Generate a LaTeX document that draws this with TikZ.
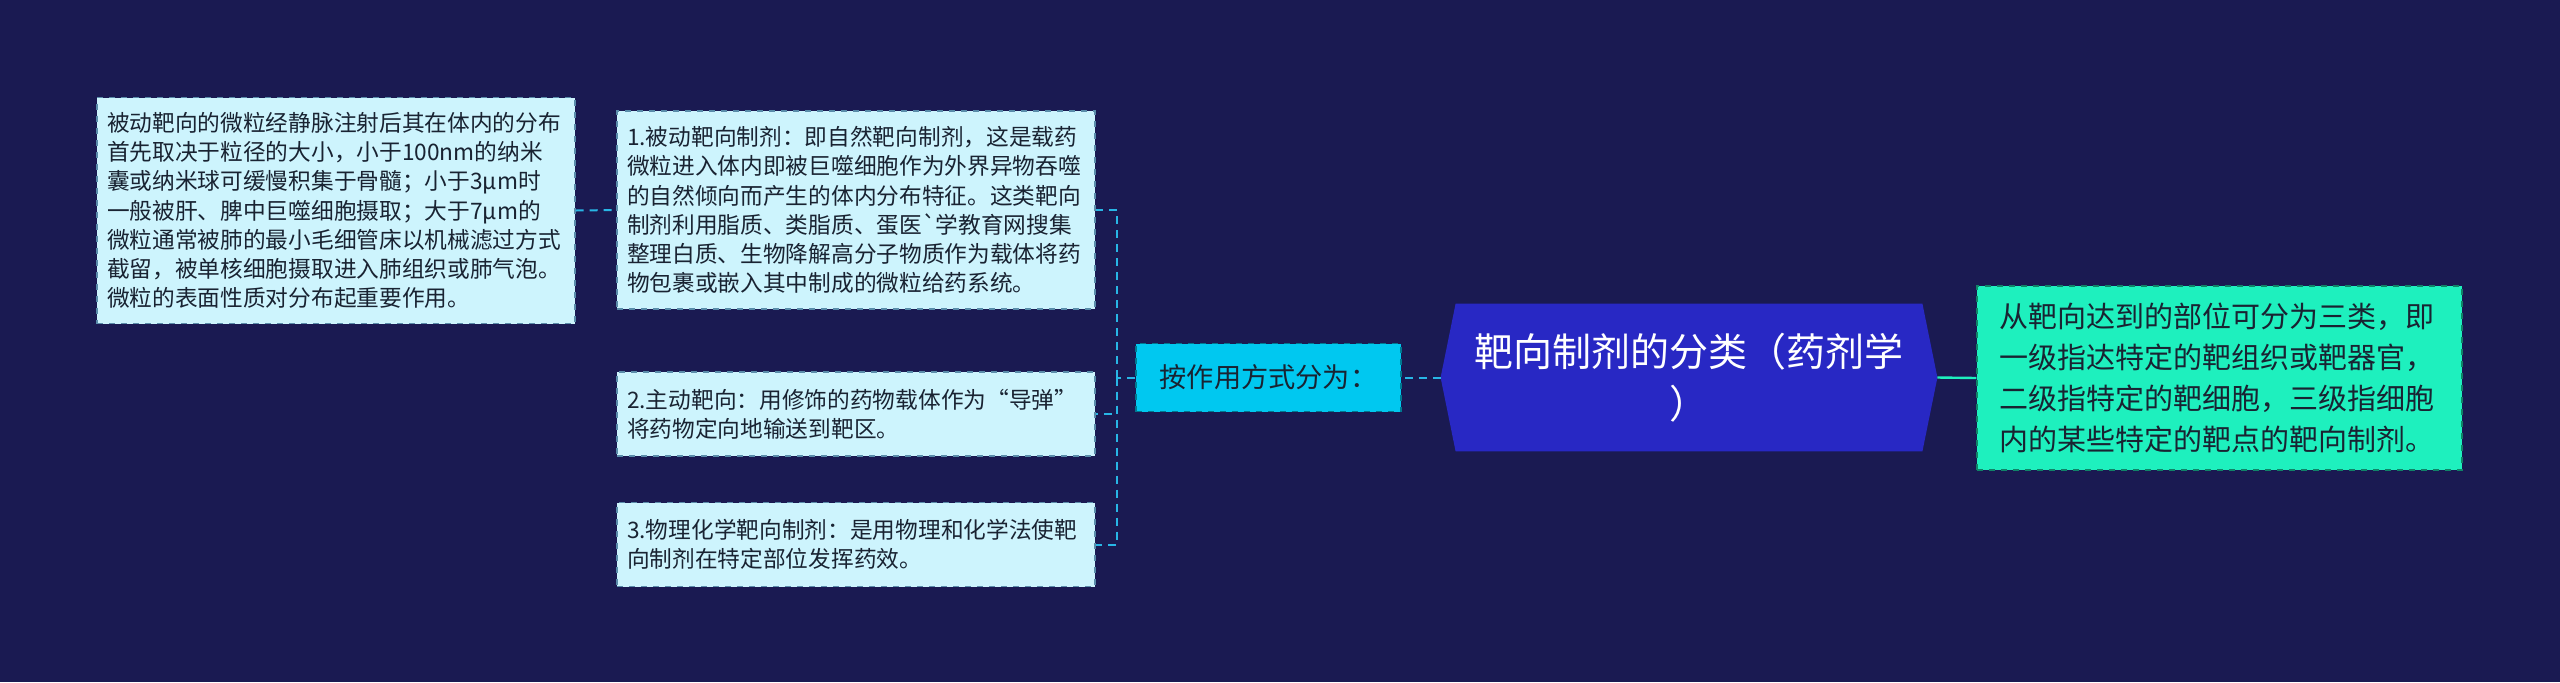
\documentclass[tikz,border=0pt]{standalone}
\usepackage{fontspec}
\setmainfont{Noto Sans CJK SC}
\newfontfamily\gravefont{Noto Sans CJK SC}
\usetikzlibrary{backgrounds}

\definecolor{bgnavy}{RGB}{26,26,82}
\definecolor{paleblue}{RGB}{205,244,253}
\definecolor{paleedge}{RGB}{90,140,170}
\definecolor{modecyan}{RGB}{0,200,240}
\definecolor{rootblue}{RGB}{40,40,196}
\definecolor{aqua}{RGB}{30,240,190}
\definecolor{linkcyan}{RGB}{40,182,230}
\definecolor{inktext}{RGB}{25,35,50}

\begin{document}
\begin{tikzpicture}[x=0.5pt, y=-0.5pt,
		leaf/.style={draw=paleedge, dashed, line width=0.6pt, fill=paleblue, text=inktext,
			align=left, text width=229pt, inner xsep=5pt, inner ysep=2pt,
			font={\fontsize{11.35}{14.6}\selectfont}},
		modebox/.style={draw=modecyan!60!black, dashed, line width=0.6pt, fill=modecyan, text=inktext,
			minimum width=132.5pt, minimum height=34pt, inner sep=1pt,
			font={\fontsize{13.6}{16}\selectfont}},
		rootbox/.style={minimum width=233pt, minimum height=73.5pt, inner sep=0pt, text=white,
			align=center, font={\fontsize{19.5}{26}\selectfont}},
		clsbox/.style={draw=aqua!55!black, dashed, line width=0.6pt, fill=aqua, text=inktext,
			align=left, text width=220pt, inner xsep=11.25pt, minimum height=92pt,
			font={\fontsize{14.5}{20.5}\selectfont}},
		link/.style={draw=linkcyan, line width=1pt, dash pattern=on 4pt off 3pt},
		aqualink/.style={draw=aqua, line width=1.2pt, dash pattern=on 22pt off 3pt}]
		\useasboundingbox (0,0) rectangle (2560,682);

		\node[leaf, minimum height=113pt] (pas) at (336,210.5) {被动靶向的微粒经静脉注射后其在体内的分布\\首先取决于粒径的大小，小于100nm的纳米\\囊或纳米球可缓慢积集于骨髓；小于3μm时\\一般被肝、脾中巨噬细胞摄取；大于7μm的\\微粒通常被肺的最小毛细管床以机械滤过方式\\截留，被单核细胞摄取进入肺组织或肺气泡。\\微粒的表面性质对分布起重要作用。};
		\node[leaf, minimum height=99pt] (t1) at (856,210) {1.被动靶向制剂：即自然靶向制剂，这是载药\\微粒进入体内即被巨噬细胞作为外界异物吞噬\\的自然倾向而产生的体内分布特征。这类靶向\\制剂利用脂质、类脂质、蛋医{\gravefont `}学教育网搜集\\整理白质、生物降解高分子物质作为载体将药\\物包裹或嵌入其中制成的微粒给药系统。};
		\node[leaf, minimum height=42pt] (t2) at (856,414) {2.主动靶向：用修饰的药物载体作为“导弹”\\将药物定向地输送到靶区。};
		\node[leaf, minimum height=42pt] (t3) at (856,544.5) {3.物理化学靶向制剂：是用物理和化学法使靶\\向制剂在特定部位发挥药效。};

		\node[modebox] (mode) at (1268.5,377.5) {按作用方式分为：};
		\node[rootbox] (root) at (1689,377.5) {靶向制剂的分类（药剂学\\）};
		\node[clsbox] (cls) at (2219.5,378) {从靶向达到的部位可分为三类，即\\一级指达特定的靶组织或靶器官，\\二级指特定的靶细胞，三级指细胞\\内的某些特定的靶点的靶向制剂。};

		\coordinate (rootL) at ([xshift=-7.5pt]root.west);
		\coordinate (rootR) at ([xshift=7.5pt]root.east);
		\coordinate (fork) at (1117,377.5);

		\begin{scope}[on background layer]
			\fill[bgnavy] (0,0) rectangle (2560,682);
			\fill[rootblue] (root.north west) -- (root.north east) -- (rootR)
			-- (root.south east) -- (root.south west) -- (rootL) -- cycle;
		\end{scope}

		\draw[aqualink] (rootR) -- (cls.west);
		\draw[link] (rootL) -- (mode.east);
		\draw[link] (mode.west) -- (fork);
		\draw[link] (fork) |- (t1.east);
		\draw[link] (fork) |- (t2.east);
		\draw[link] (fork) |- (t3.east);
		\draw[link] (pas.east) -- (t1.west);
	\end{tikzpicture}
\end{document}
